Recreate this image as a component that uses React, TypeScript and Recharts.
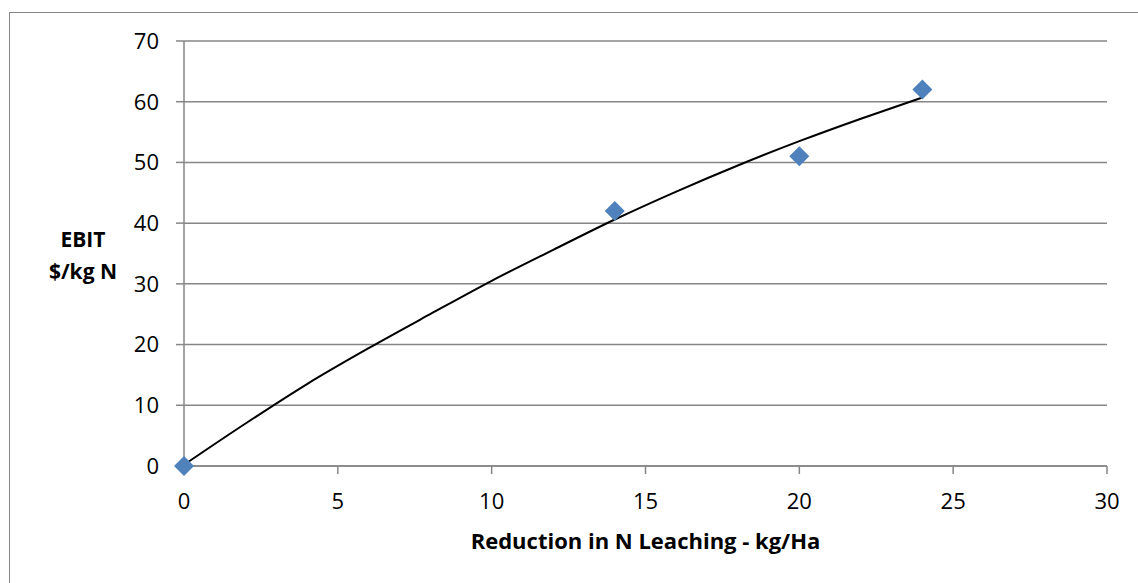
import React from 'react';
import { ComposedChart, CartesianGrid, Line, Scatter, XAxis, YAxis } from 'recharts';

// observed points
const leachX = [0, 14, 20, 24];
const ebitY = [0, 42, 51, 62];

// trendline
const trendX = [0, 2, 4, 6, 8, 10, 12, 14, 16, 18, 20, 22, 24];
const trendY = [0.2, 7, 13.5, 19.4, 25, 30.5, 35.6, 40.6, 45.2, 49.5, 53.5, 57.2, 60.7];

const xTicks = [0, 5, 10, 15, 20, 25, 30];
const yTicks = [0, 10, 20, 30, 40, 50, 60, 70];

const points = leachX.map((x, i) => ({ x, y: ebitY[i] }));
const trend = trendX.map((x, i) => ({ x, t: trendY[i] }));

const FONT = '"Open Sans", sans-serif';
const GRAY = '#868686';

const Diamond = (props: any) => {
  const { cx, cy } = props;
  const r = 10;
  return (
    <polygon
      points={`${cx},${cy - r} ${cx + r},${cy} ${cx},${cy + r} ${cx - r},${cy}`}
      fill="#4F81BD"
    />
  );
};

const YTitle = () => (
  <text x={83} y={247} textAnchor="middle" fontFamily={FONT} fontWeight={700} fontSize={21} fill="#000">
    <tspan x={83}>EBIT</tspan>
    <tspan x={83} dy={32}>$/kg N</tspan>
  </text>
);

const XTitle = (props: any) => {
  const { viewBox } = props;
  return (
    <text
      x={viewBox.x + viewBox.width / 2}
      y={549}
      textAnchor="middle"
      fontFamily={FONT}
      fontWeight={700}
      fontSize={22}
      fill="#000"
    >
      Reduction in N Leaching - kg/Ha
    </text>
  );
};

export default function App() {
  return (
    <div style={{ position: 'absolute', left: 0, top: 0, width: 1138, height: 583, background: '#fff', overflow: 'hidden' }}>
      <div
        style={{
          position: 'absolute',
          left: 9,
          top: 12,
          width: 1140,
          height: 590,
          border: `1.5px solid ${GRAY}`,
        }}
      />
      <div style={{ position: 'absolute', left: 0, top: 0 }}>
        <ComposedChart width={1138} height={583} margin={{ top: 41, right: 31, left: 0, bottom: 0 }}>
          <CartesianGrid horizontal vertical={false} stroke={GRAY} strokeWidth={1.5} />
          <XAxis
            type="number"
            dataKey="x"
            domain={[0, 30]}
            ticks={xTicks}
            interval={0}
            height={117}
            stroke={GRAY}
            strokeWidth={1.5}
            tickSize={8}
            tickMargin={19}
            tick={{ fill: '#000', fontSize: 22, fontFamily: FONT }}
            label={{ content: XTitle }}
          />
          <YAxis
            type="number"
            domain={[0, 70]}
            ticks={yTicks}
            interval={0}
            width={184}
            stroke={GRAY}
            strokeWidth={1.5}
            tickSize={8}
            tickMargin={17}
            tick={{ fill: '#000', fontSize: 22, fontFamily: FONT }}
            label={{ content: YTitle }}
          />
          <Line
            data={trend}
            dataKey="t"
            type="monotone"
            stroke="#000"
            strokeWidth={2}
            dot={false}
            activeDot={false}
            isAnimationActive={false}
          />
          <Scatter data={points} dataKey="y" shape={<Diamond />} isAnimationActive={false} />
        </ComposedChart>
      </div>
    </div>
  );
}
